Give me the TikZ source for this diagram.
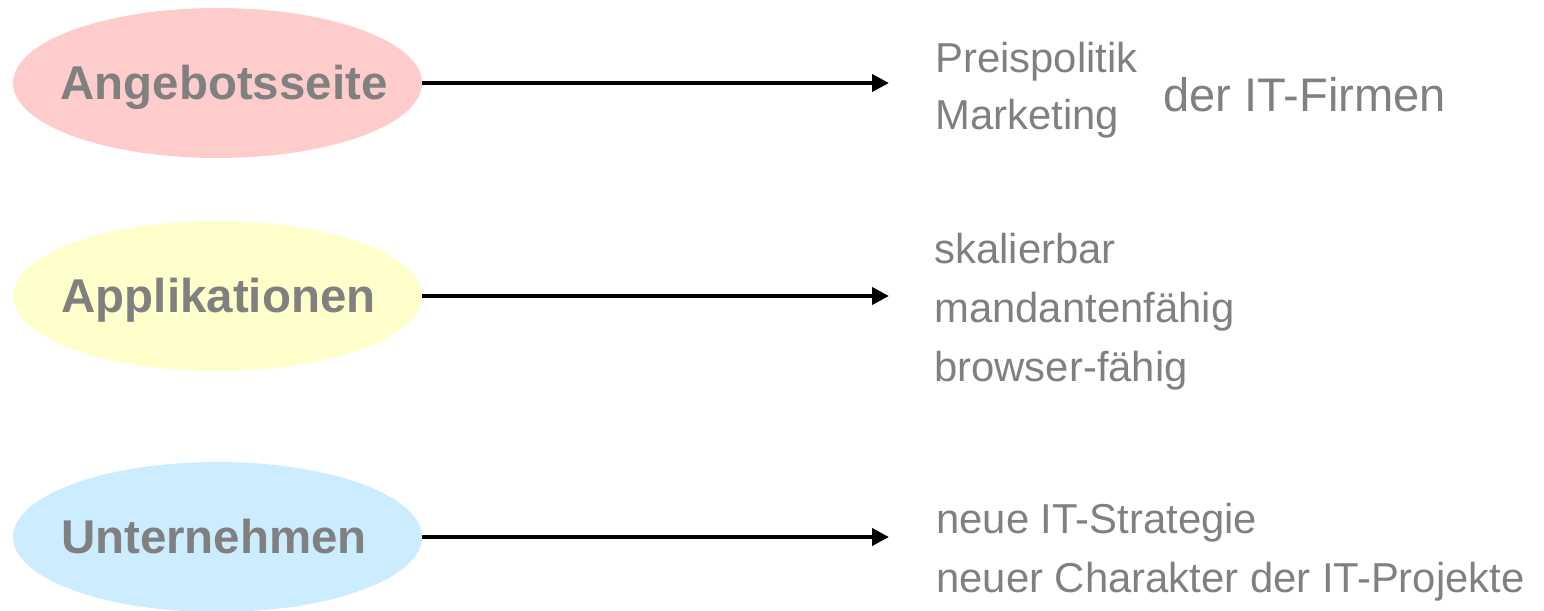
\documentclass[tikz,border=0pt]{standalone}
\usepackage{fontspec}
\setmainfont{Liberation Sans}
\usetikzlibrary{shapes.geometric, arrows.meta, positioning}
\definecolor{ovalpink}{RGB}{255, 204, 204}
\definecolor{ovalyellow}{RGB}{255, 255, 204}
\definecolor{ovalblue}{RGB}{204, 236, 255}
\definecolor{textgray}{RGB}{128, 128, 128}

\begin{document}
\begin{tikzpicture}[
  oval/.style={ellipse, minimum width=8.18cm, minimum height=3.0cm, inner sep=0pt},
  ovaltext/.style={text=textgray, font=\fontsize{27}{32}\selectfont\bfseries, inner sep=0pt, text height=19.3pt, text depth=0pt},
  bigarrow/.style={-{Triangle[length=0.34cm, width=0.34cm]}, line width=2.3pt},
  note/.style={anchor=base west, text=textgray, font=\fontsize{23.8}{28}\selectfont, inner sep=0pt}
]
  \useasboundingbox (0,0) rectangle (30.88,12.2);

  % ovals
  \node[oval, fill=ovalpink] (supply) at (4.35,10.54) {};
  \node[oval, fill=ovalyellow] (apps) at (4.35,6.28) {};
  \node[oval, fill=ovalblue] (firms) at (4.35,1.46) {};
  \node[ovaltext] (supplytext) at (4.48,10.54) {Angebotsseite};
  \node[ovaltext] (appstext) at (4.37,6.28) {Applikationen};
  \node[ovaltext] (firmstext) at (4.28,1.46) {Unternehmen};

  % arrows
  \coordinate (supplytip) at (17.78,10.54);
  \coordinate (appstip) at (17.78,6.28);
  \coordinate (firmstip) at (17.78,1.46);
  \draw[bigarrow] (supply.east) -- (supplytip);
  \draw[bigarrow] (apps.east) -- (appstip);
  \draw[bigarrow] (firms.east) -- (firmstip);

  % right side
  \node[note] (price) at (18.70,10.74) {Preispolitik};
  \node[note] (marketing) at (18.70,9.60) {Marketing};
  \node[note, font=\fontsize{26.8}{32}\selectfont] (itfirms) at (23.26,9.96) {der IT-Firmen};

  \node[note] (scalable) at (18.68,6.94) {skalierbar};
  \node[note] (tenant) at (18.68,5.76) {mandantenfähig};
  \node[note] (browser) at (18.68,4.58) {browser-fähig};

  \node[note] (strategy) at (18.72,1.54) {neue IT-Strategie};
  \node[note] (projects) at (18.72,0.36) {neuer Charakter der IT-Projekte};
\end{tikzpicture}
\end{document}
